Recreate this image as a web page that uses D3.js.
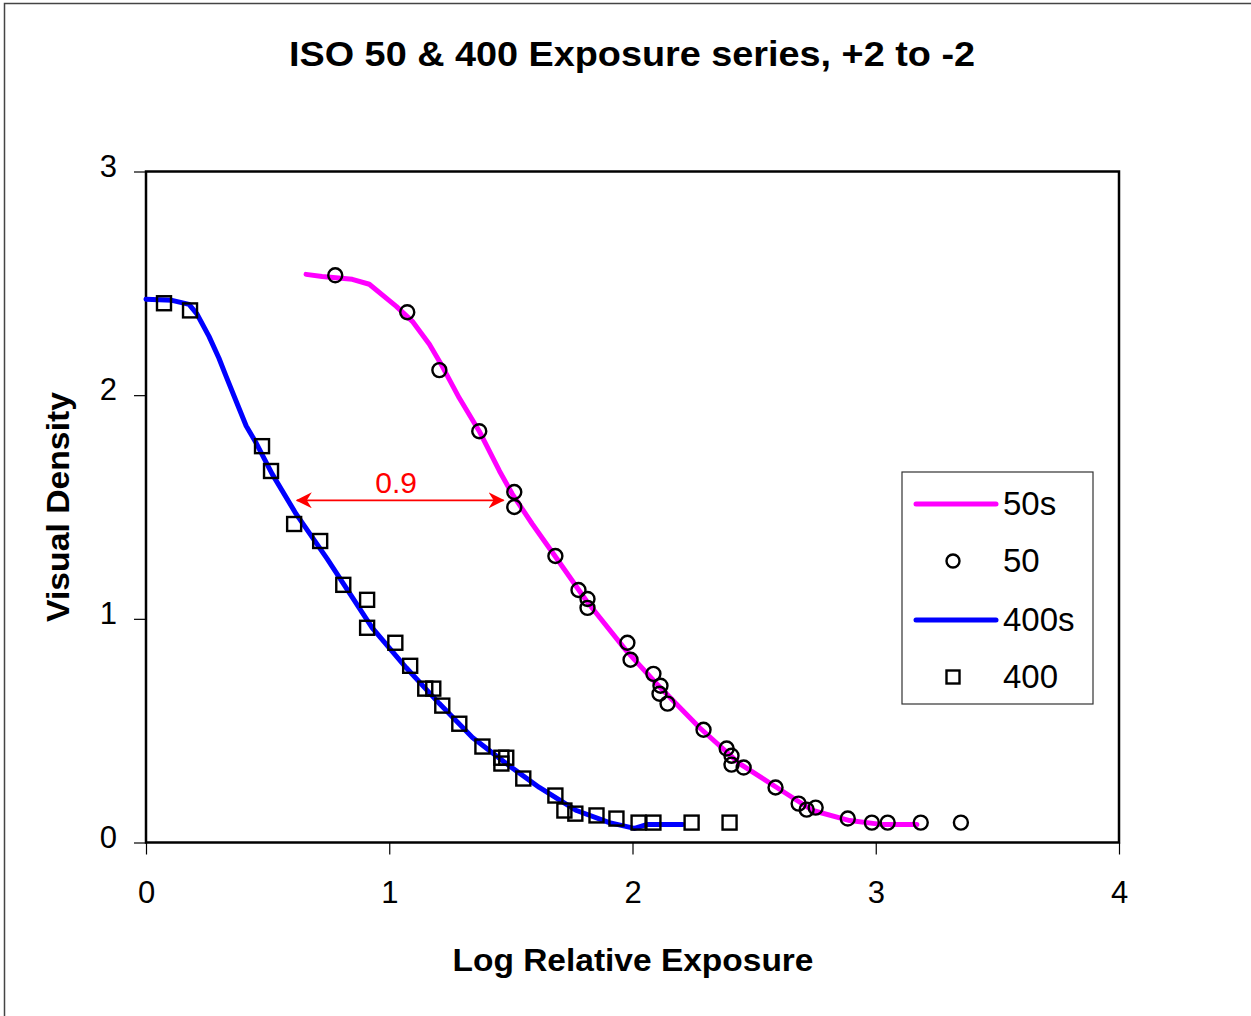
<!DOCTYPE html>
<meta charset="utf-8">
<style>
body { margin: 0; background: #fff; }
text { font-family: "Liberation Sans", Arial, sans-serif; }
</style>
<body>
<script src="https://cdnjs.cloudflare.com/ajax/libs/d3/7.8.5/d3.min.js"></script>
<script>

var w = 1251;
var h = 1016;

// ISO 50 measured points (log exposure, density)
var iso50x = [0.778, 1.074, 1.206, 1.370, 1.514, 1.514, 1.683, 1.778, 1.815, 1.815,
	1.979, 1.992, 2.086, 2.115, 2.111, 2.144, 2.292, 2.387, 2.407, 2.407,
	2.457, 2.588, 2.683, 2.716, 2.753, 2.885, 2.984, 3.049, 3.185, 3.350];
var iso50y = [2.536, 2.371, 2.112, 1.839, 1.567, 1.500, 1.281, 1.129, 1.089, 1.049,
	0.893, 0.817, 0.754, 0.701, 0.665, 0.621, 0.504, 0.420, 0.388, 0.348,
	0.335, 0.246, 0.174, 0.147, 0.156, 0.107, 0.089, 0.089, 0.089, 0.089];

// ISO 400 measured points
var iso400x = [0.074, 0.181, 0.477, 0.514, 0.609, 0.716, 0.811, 0.909, 0.909, 1.025,
	1.086, 1.148, 1.181, 1.218, 1.288, 1.383, 1.461, 1.481, 1.461, 1.551,
	1.683, 1.720, 1.765, 1.852, 1.934, 2.025, 2.086, 2.243, 2.399];
var iso400y = [2.411, 2.379, 1.772, 1.661, 1.424, 1.348, 1.152, 1.085, 0.960, 0.893,
	0.790, 0.688, 0.688, 0.612, 0.531, 0.429, 0.379, 0.379, 0.353, 0.286,
	0.210, 0.143, 0.129, 0.121, 0.107, 0.089, 0.089, 0.089, 0.089];

// smoothed curves
var s50x = [0.658, 0.724, 0.848, 0.918, 1.029, 1.095, 1.165, 1.218, 1.288, 1.370,
	1.453, 1.506, 1.588, 1.687, 1.811, 1.975, 2.099, 2.276, 2.440, 2.593,
	2.741, 2.893, 3.029, 3.169];
var s50y = [2.540, 2.531, 2.518, 2.496, 2.397, 2.330, 2.228, 2.129, 1.987, 1.839,
	1.661, 1.558, 1.424, 1.272, 1.080, 0.857, 0.710, 0.513, 0.353, 0.246,
	0.143, 0.098, 0.080, 0.080];

var s400x = [0.000, 0.107, 0.177, 0.210, 0.259, 0.300, 0.329, 0.374, 0.412, 0.453,
	0.519, 0.617, 0.745, 0.930, 1.070, 1.206, 1.342, 1.481, 1.617, 1.770,
	1.905, 2.008, 2.058, 2.206];
var s400y = [2.429, 2.424, 2.406, 2.362, 2.263, 2.165, 2.085, 1.964, 1.862, 1.786,
	1.647, 1.469, 1.268, 0.960, 0.781, 0.621, 0.469, 0.353, 0.246, 0.143,
	0.089, 0.063, 0.080, 0.080];

var xTicks = [0, 1, 2, 3, 4];
var yTicks = [0, 1, 2, 3];

var arrowX = [0.62, 1.47];
var arrowY = 1.53;
var arrowLabel = "0.9";

var legendLabels = ["50s", "50", "400s", "400"];

var zip = function(xs, ys) {
	return xs.map(function(d, i) { return [d, ys[i]]; });
};

var svg = d3.select("body")
	.append("svg")
	.attr("width", w)
	.attr("height", h);

// outer chart frame
svg.append("rect")
	.attr("x", 4.5).attr("y", 3.5)
	.attr("width", 1300).attr("height", 1100)
	.attr("fill", "none")
	.attr("stroke", "#444")
	.attr("stroke-width", 1.5);

var x = d3.scaleLinear().domain([0, 4]).range([146, 1119]);
var y = d3.scaleLinear().domain([0, 3]).range([842.5, 171.5]);

// plot frame
svg.append("rect")
	.attr("x", x(0)).attr("y", y(3))
	.attr("width", x(4) - x(0)).attr("height", y(0) - y(3))
	.attr("fill", "none")
	.attr("stroke", "#000")
	.attr("stroke-width", 2.5);

var xAxis = svg.append("g")
	.attr("transform", "translate(0," + y(0) + ")")
	.call(d3.axisBottom(x).tickValues(xTicks).tickSize(12).tickPadding(26).tickFormat(d3.format("d")));
var yAxis = svg.append("g")
	.attr("transform", "translate(" + x(0) + ",0)")
	.call(d3.axisLeft(y).tickValues(yTicks).tickSize(12).tickPadding(17).tickFormat(d3.format("d")));

[xAxis, yAxis].forEach(function(a) {
	a.select(".domain").remove();
	a.selectAll("line").attr("stroke", "#000").attr("stroke-width", 1.2);
	a.selectAll("text")
		.attr("fill", "#000")
		.style("font-family", "'Liberation Sans', Arial, sans-serif")
		.style("font-size", "31px");
});
yAxis.selectAll("text").attr("dy", "0.15em");

// titles
svg.append("text")
	.attr("x", 632).attr("y", 66)
	.attr("text-anchor", "middle")
	.attr("textLength", 686)
	.attr("lengthAdjust", "spacingAndGlyphs")
	.style("font-weight", "bold")
	.style("font-size", "35px")
	.text("ISO 50 & 400 Exposure series, +2 to -2");

svg.append("text")
	.attr("x", 633).attr("y", 971)
	.attr("text-anchor", "middle")
	.attr("textLength", 361)
	.attr("lengthAdjust", "spacingAndGlyphs")
	.style("font-weight", "bold")
	.style("font-size", "31px")
	.text("Log Relative Exposure");

svg.append("text")
	.attr("transform", "translate(69,507) rotate(-90)")
	.attr("text-anchor", "middle")
	.attr("textLength", 230)
	.attr("lengthAdjust", "spacingAndGlyphs")
	.style("font-weight", "bold")
	.style("font-size", "31px")
	.text("Visual Density");

// curves
var line = d3.line()
	.x(function(d) { return x(d[0]); })
	.y(function(d) { return y(d[1]); });

svg.append("path")
	.datum(zip(s50x, s50y))
	.attr("d", line)
	.attr("fill", "none")
	.attr("stroke", "#ff00ff")
	.attr("stroke-width", 5)
	.attr("stroke-linejoin", "round")
	.attr("stroke-linecap", "round");

svg.append("path")
	.datum(zip(s400x, s400y))
	.attr("d", line)
	.attr("fill", "none")
	.attr("stroke", "#0000ff")
	.attr("stroke-width", 5)
	.attr("stroke-linejoin", "round")
	.attr("stroke-linecap", "round");

// markers
svg.selectAll("circle.p50")
	.data(zip(iso50x, iso50y))
	.enter()
	.append("circle")
	.attr("class", "p50")
	.attr("cx", function(d) { return x(d[0]); })
	.attr("cy", function(d) { return y(d[1]); })
	.attr("r", 7)
	.attr("fill", "none")
	.attr("stroke", "#000")
	.attr("stroke-width", 2.4);

svg.selectAll("rect.p400")
	.data(zip(iso400x, iso400y))
	.enter()
	.append("rect")
	.attr("class", "p400")
	.attr("x", function(d) { return x(d[0]) - 7; })
	.attr("y", function(d) { return y(d[1]) - 7; })
	.attr("width", 14)
	.attr("height", 14)
	.attr("fill", "none")
	.attr("stroke", "#000")
	.attr("stroke-width", 2.4);

// speed difference annotation
var defs = svg.append("defs");
defs.append("marker")
	.attr("id", "head")
	.attr("viewBox", "0 0 16 16")
	.attr("refX", 15).attr("refY", 8)
	.attr("markerWidth", 16).attr("markerHeight", 16)
	.attr("markerUnits", "userSpaceOnUse")
	.attr("orient", "auto-start-reverse")
	.append("path")
	.attr("d", "M0,0 L16,8 L0,16 L5,8 Z")
	.attr("fill", "#ff0000");

svg.append("line")
	.attr("x1", x(arrowX[0])).attr("x2", x(arrowX[1]))
	.attr("y1", y(arrowY)).attr("y2", y(arrowY))
	.attr("stroke", "#ff0000")
	.attr("stroke-width", 1.8)
	.attr("marker-start", "url(#head)")
	.attr("marker-end", "url(#head)");

svg.append("text")
	.attr("x", (x(arrowX[0]) + x(arrowX[1])) / 2 - 4)
	.attr("y", y(arrowY) - 7)
	.attr("text-anchor", "middle")
	.attr("fill", "#ff0000")
	.style("font-size", "30px")
	.text(arrowLabel);

// legend
var lg = svg.append("g").attr("transform", "translate(902,472)");
lg.append("rect")
	.attr("x", 0).attr("y", 0)
	.attr("width", 191).attr("height", 232)
	.attr("fill", "#fff")
	.attr("stroke", "#333")
	.attr("stroke-width", 1.2);

var rowY = [32, 89, 148, 205];
lg.selectAll("text.lab")
	.data(legendLabels)
	.enter()
	.append("text")
	.attr("class", "lab")
	.attr("x", 101)
	.attr("y", function(d, i) { return rowY[i] + 11; })
	.style("font-size", "33px")
	.text(function(d) { return d; });

lg.append("line")
	.attr("x1", 14).attr("x2", 94).attr("y1", rowY[0]).attr("y2", rowY[0])
	.attr("stroke", "#ff00ff").attr("stroke-width", 5).attr("stroke-linecap", "round");
lg.append("circle")
	.attr("cx", 51).attr("cy", rowY[1]).attr("r", 6.5)
	.attr("fill", "none").attr("stroke", "#000").attr("stroke-width", 2.4);
lg.append("line")
	.attr("x1", 14).attr("x2", 94).attr("y1", rowY[2]).attr("y2", rowY[2])
	.attr("stroke", "#0000ff").attr("stroke-width", 5).attr("stroke-linecap", "round");
lg.append("rect")
	.attr("x", 44.5).attr("y", rowY[3] - 6.5).attr("width", 13).attr("height", 13)
	.attr("fill", "none").attr("stroke", "#000").attr("stroke-width", 2.4);

</script>
</body>
